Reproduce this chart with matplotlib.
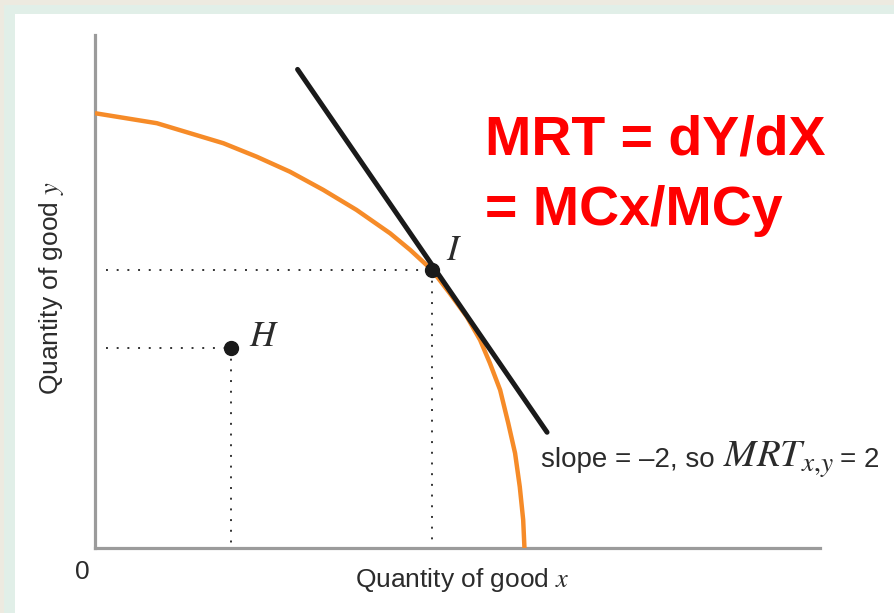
import matplotlib
matplotlib.use("Agg")
import matplotlib.pyplot as plt
from matplotlib.patches import Rectangle

plt.rcParams['mathtext.fontset'] = 'stix'
plt.rcParams['font.family'] = ['Liberation Sans', 'DejaVu Sans']

# ---- data ----
ppf_x = [0.0, 1.45, 2.23, 3.01, 3.79, 4.57, 5.35, 6.13, 6.92, 7.39, 7.9,
         8.32, 8.72, 9.03, 9.26, 9.50, 9.69, 9.85, 9.96, 10.04, 10.07]
ppf_y = [13.90, 13.58, 13.26, 12.94, 12.51, 12.03, 11.45, 10.81, 10.06, 9.53, 8.89,
         8.14, 7.39, 6.65, 5.91, 5.05, 3.99, 3.03, 1.96, 0.90, 0.0]
point_I = (7.9, 8.9)
point_H = (3.2, 6.4)
tangent_x = [4.75, 10.6]
tangent_y = [15.3, 3.7]
x_limits = (0, 17.0)
y_limits = (0, 16.4)

W, H = 894, 613
fig = plt.figure(figsize=(W / 100, H / 100), dpi=100)
fig.patch.set_facecolor('white')

def px_rect(x0, y0, w, h, color):
    fig.add_artist(Rectangle((x0 / W, 1 - (y0 + h) / H), w / W, h / H,
                             transform=fig.transFigure, facecolor=color,
                             edgecolor='none', zorder=0))

beige = '#EDEAE0'
green = '#E1EFE8'
px_rect(0, 0, W, 5, beige)
px_rect(0, 0, 4, H, beige)
px_rect(4, 5, W, 9, green)
px_rect(4, 5, 11, H, green)

ax = fig.add_axes([95 / W, (H - 548) / H, 725 / W, 513 / H])
ax.set_facecolor('none')
ax.set_xlim(*x_limits)
ax.set_ylim(*y_limits)
for s in ['top', 'right']:
    ax.spines[s].set_visible(False)
for s in ['left', 'bottom']:
    ax.spines[s].set_color('#9b9b9b')
    ax.spines[s].set_linewidth(2.3)
ax.set_xticks([])
ax.set_yticks([])

dot_style = dict(color='#333333', lw=1.4, linestyle=(0, (1, 4.5)), zorder=2)
for (px, py) in [point_I, point_H]:
    ax.plot([0.25, px], [py, py], **dot_style)
    ax.plot([px, px], [py, 0.1], **dot_style)

ax.plot(ppf_x, ppf_y, color='#F68B28', lw=3.2, solid_capstyle='butt',
        solid_joinstyle='round', zorder=3)
ax.plot(tangent_x, tangent_y, color='#1a1a1a', lw=3.6, solid_capstyle='round', zorder=4)
ax.plot([point_I[0], point_H[0]], [point_I[1], point_H[1]], 'o', color='#1a1a1a',
        markersize=10, linestyle='none', zorder=5)

txt = '#2b2b2b'
fig.text(454 / W, 1 - 250 / H, '$I$', fontsize=26, color=txt, ha='center', va='center')
fig.text(264 / W, 1 - 337 / H, '$H$', fontsize=26, color=txt, ha='center', va='center')

fig.text(462 / W, 1 - 580 / H, 'Quantity of good $x$', fontsize=19, color=txt,
         ha='center', va='center')
fig.text(52 / W, 1 - 288 / H, 'Quantity of good $y$', fontsize=19, color=txt,
         ha='center', va='center', rotation=90)
fig.text(82 / W, 1 - 572 / H, '0', fontsize=19, color=txt, ha='center', va='center')

# slope annotation built from pieces
base_y = 1 - 467 / H
renderer = fig.canvas.get_renderer()
t1 = fig.text(541 / W, base_y, 'slope = \u20132, so', fontsize=20, color=txt, va='baseline')
bb = t1.get_window_extent(renderer)
t2 = fig.text((bb.x1 + 8) / W, base_y, '$MRT_{x{,}y}$', fontsize=28, color=txt, va='baseline')
bb2 = t2.get_window_extent(renderer)
fig.text((bb2.x1 + 6) / W, base_y, '= 2', fontsize=20, color=txt, va='baseline')

red = '#FF0000'
fig.text(485 / W, 1 - 155 / H, 'MRT = dY/dX', fontsize=40, fontweight='bold',
         color=red, va='baseline')
fig.text(485 / W, 1 - 225 / H, '= MCx/MCy', fontsize=40, fontweight='bold',
         color=red, va='baseline')

fig.savefig('out.png', dpi=100, facecolor=fig.get_facecolor())
